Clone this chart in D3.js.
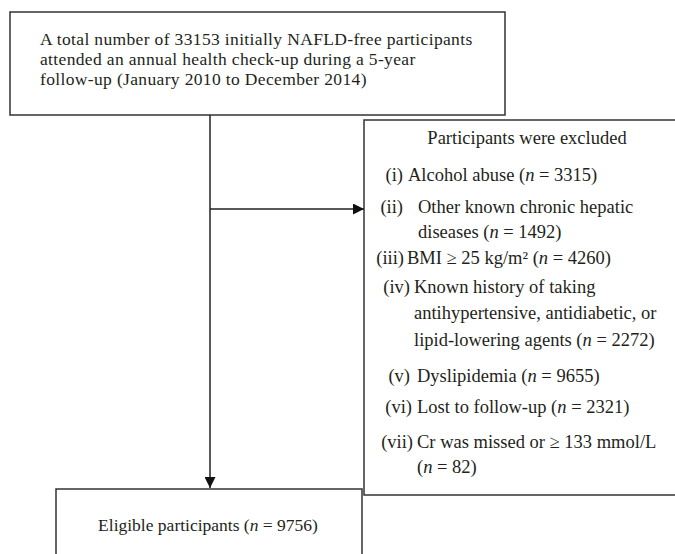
<!doctype html>
<html>
<head>
<meta charset="UTF-8">
<script src="https://cdn.jsdelivr.net/npm/d3@7"></script>
<style>
  body { margin: 0; background: #fff; }
  svg text { font-family: "Liberation Serif", "DejaVu Serif", serif; fill: #231f20; }
</style>
</head>
<body>
<svg id="chart"></svg>
<script>
// flowchart texts; *x* marks italic
var topLines = [
  "A total number of 33153 initially NAFLD-free participants",
  "attended an annual health check-up during a 5-year",
  "follow-up (January 2010 to December 2014)"
];
var excludedTitle = "Participants were excluded";
var excludedLabels = ["(i)", "(ii)", "(iii)", "(iv)", "(v)", "(vi)", "(vii)"];
var excludedItems = [
  ["Alcohol abuse (*n* = 3315)"],
  ["Other known chronic hepatic", "diseases (*n* = 1492)"],
  ["BMI \u2265 25 kg/m\u00b2 (*n* = 4260)"],
  ["Known history of taking", "antihypertensive, antidiabetic, or", "lipid-lowering agents (*n* = 2272)"],
  ["Dyslipidemia (*n* = 9655)"],
  ["Lost to follow-up (*n* = 2321)"],
  ["Cr was missed or \u2265 133 mmol/L", "(*n* = 82)"]
];
var eligibleText = "Eligible participants (*n* = 9756)";

var width = 675, height = 554;
var fs = 18.5;

var svg = d3.select("#chart").attr("width", width).attr("height", height);

svg.append("defs").append("marker")
  .attr("id", "arrow")
  .attr("viewBox", "0 0 10 10")
  .attr("refX", 10).attr("refY", 5)
  .attr("markerWidth", 11).attr("markerHeight", 11)
  .attr("markerUnits", "userSpaceOnUse")
  .attr("orient", "auto")
  .append("path").attr("d", "M0,0L10,5L0,10Z").attr("fill", "#111");

function richText(sel, str) {
  var parts = str.split(/(\*[^*]+\*)/);
  parts.forEach(function(p) {
    if (!p) return;
    if (p[0] === "*") {
      sel.append("tspan").attr("font-style", "italic").text(p.slice(1, -1));
    } else {
      sel.append("tspan").text(p);
    }
  });
}

function box(x, y, w, h) {
  svg.append("rect")
    .attr("x", x).attr("y", y).attr("width", w).attr("height", h)
    .attr("fill", "none").attr("stroke", "#333").attr("stroke-width", 1.5);
}

// boxes
box(10, 12, 495, 103);
box(364, 120, 330, 375);
box(56, 489, 306, 90);

// connectors
svg.append("line").attr("x1", 210).attr("y1", 115).attr("x2", 210).attr("y2", 488)
  .attr("stroke", "#222").attr("stroke-width", 1.5).attr("marker-end", "url(#arrow)");
svg.append("line").attr("x1", 210).attr("y1", 209).attr("x2", 364).attr("y2", 209)
  .attr("stroke", "#222").attr("stroke-width", 1.5).attr("marker-end", "url(#arrow)");

// top box text
var yTop = d3.scalePoint().domain(d3.range(topLines.length)).range([39, 79]);
topLines.forEach(function(l, i) {
  svg.append("text").attr("x", 40).attr("y", yTop(i)).attr("dy", "0.35em")
    .attr("font-size", 17.5).attr("letter-spacing", 0.35).text(l);
});

// excluded box
svg.append("text").attr("x", 527).attr("y", 138).attr("dy", "0.35em")
  .attr("text-anchor", "middle").attr("font-size", fs).text(excludedTitle);

var itemY = [[175], [207, 232], [258], [287, 313, 340], [376], [407], [442, 467]];
var labelEnd = [403, 403, 404, 410, 410, 412, 413];
var textX = [408, 418, 407, 414, 417, 417, 417];
excludedItems.forEach(function(lines, i) {
  svg.append("text").attr("x", labelEnd[i]).attr("y", itemY[i][0]).attr("dy", "0.35em")
    .attr("text-anchor", "end").attr("font-size", fs).text(excludedLabels[i]);
  lines.forEach(function(l, j) {
    var t = svg.append("text").attr("x", textX[i]).attr("y", itemY[i][j]).attr("dy", "0.35em")
      .attr("font-size", fs);
    richText(t, l);
  });
});

// eligible
var te = svg.append("text").attr("x", 208).attr("y", 525).attr("dy", "0.35em")
  .attr("text-anchor", "middle").attr("font-size", 17.5);
richText(te, eligibleText);
</script>
</body>
</html>
